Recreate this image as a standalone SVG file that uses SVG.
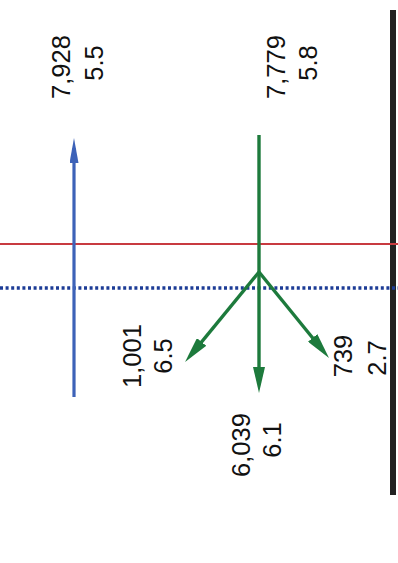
<svg xmlns="http://www.w3.org/2000/svg" width="398" height="563" viewBox="0 0 398 563">
<style>
.lbl{font-family:"Liberation Sans",Arial,sans-serif;font-size:25.5px;fill:#111;text-anchor:middle}
.g{stroke:#1d7a3c;stroke-width:3.4;fill:none}
.b{stroke:#3d62b8;stroke-width:3.2;fill:none}
</style>
<defs>
<marker id="ag" viewBox="0 0 26 12" refX="16" refY="6" markerWidth="26" markerHeight="12" markerUnits="userSpaceOnUse" orient="auto">
<path d="M0,0 L26,6 L0,12 Z" fill="#1d7a3c"/>
</marker>
<marker id="ab" viewBox="0 0 25 9" refX="15" refY="4.5" markerWidth="25" markerHeight="9" markerUnits="userSpaceOnUse" orient="auto">
<path d="M0,0 L25,4.5 L0,9 Z" fill="#3d62b8"/>
</marker>
</defs>
<rect width="398" height="563" fill="#fff"/>
<g id="frame">
<rect x="390" y="10" width="6" height="485" fill="#222"/>
</g>
<g id="levels">
<line x1="0" y1="244" x2="398" y2="244" stroke="#c83a40" stroke-width="1.8"/>
<line x1="0" y1="288" x2="398" y2="288" stroke="#1d3c96" stroke-width="3.6" stroke-dasharray="3 2.6"/>
</g>
<g id="connectors">
<line class="b" x1="74" y1="397" x2="74" y2="148" marker-end="url(#ab)"/>
<line class="g" x1="259" y1="135" x2="259" y2="383" marker-end="url(#ag)"/>
<line class="g" x1="259" y1="272" x2="191.4" y2="354.3" marker-end="url(#ag)"/>
<line class="g" x1="259" y1="272" x2="322.7" y2="350.3" marker-end="url(#ag)"/>
</g>
<g id="label-blue">
<text class="lbl" transform="translate(70,67) rotate(-90)">7,928</text>
<text class="lbl" transform="translate(103,63) rotate(-90)">5.5</text>
</g>
<g id="label-green">
<text class="lbl" transform="translate(285,67) rotate(-90)">7,779</text>
<text class="lbl" transform="translate(317,63) rotate(-90)">5.8</text>
</g>
<g id="label-left">
<text class="lbl" transform="translate(141,356) rotate(-90)">1,001</text>
<text class="lbl" transform="translate(172,356) rotate(-90)">6.5</text>
</g>
<g id="label-down">
<text class="lbl" transform="translate(250,445) rotate(-90)">6,039</text>
<text class="lbl" transform="translate(281,440) rotate(-90)">6.1</text>
</g>
<g id="label-right">
<text class="lbl" transform="translate(352,356) rotate(-90)">739</text>
<text class="lbl" transform="translate(386,358) rotate(-90)">2.7</text>
</g>
</svg>
